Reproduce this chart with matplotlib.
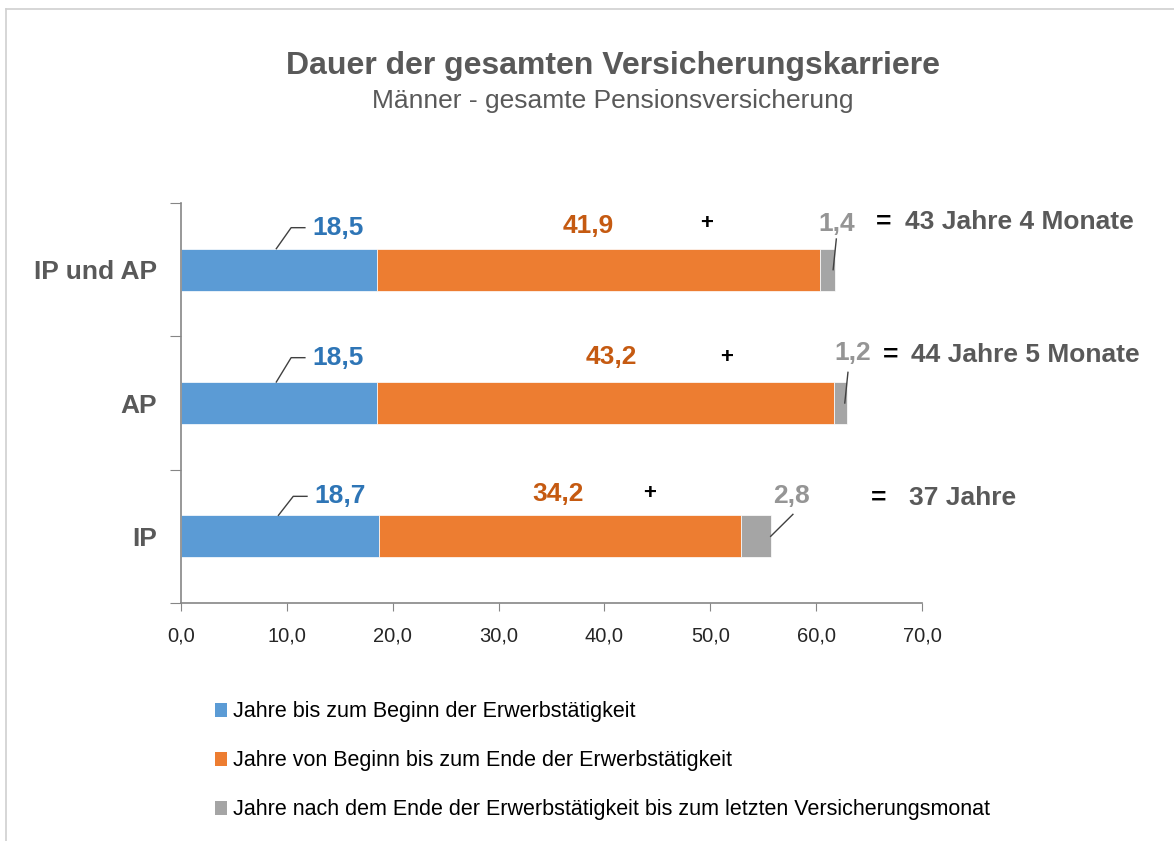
import matplotlib
matplotlib.use("Agg")
from matplotlib import pyplot as plt
from matplotlib.patches import Patch
from matplotlib.lines import Line2D

plt.rcParams['font.family'] = ['Liberation Sans', 'DejaVu Sans']

# Daten (von unten nach oben)
kategorien = ["IP", "AP", "IP und AP"]
vor_erwerb = [18.7, 18.5, 18.5]
erwerb = [34.2, 43.2, 41.9]
nach_erwerb = [2.8, 1.2, 1.4]
legende = ["Jahre bis zum Beginn der Erwerbstätigkeit",
           "Jahre von Beginn bis zum Ende der Erwerbstätigkeit",
           "Jahre nach dem Ende der Erwerbstätigkeit bis zum letzten Versicherungsmonat"]
x_ticks = [0, 10, 20, 30, 40, 50, 60, 70]

c_blau, c_orange, c_grau = "#5B9BD5", "#ED7D31", "#A5A5A5"

# Beschriftungs-Layout (Versatz je Zeile, gleiche Reihenfolge)
blau_dy = [0.30, 0.34, 0.315]
orange_dx = [-0.2, 0.5, -0.95]
orange_dy = [0.315, 0.345, 0.33]
plus_dx = [-8.6, -10.2, -10.8]
plus_dy = [0.32, 0.345, 0.345]
grau_dx = [2.0, 0.5, 0.1]
grau_dy = [0.30, 0.375, 0.345]
gleich_x = [65.9, 67.0, 66.4]
summe_x = [68.75, 69.0, 68.4]
summe_dy = [0.29, 0.36, 0.36]


def fmt(v):
    return f"{v:.1f}".replace('.', ',')


fig = plt.figure(figsize=(11.74, 8.41), dpi=100)
ax = fig.add_axes([0.1542, 0.2830, 0.6312, 0.4756])

y = list(range(len(kategorien)))
h = 0.315
ax.barh(y, vor_erwerb, height=h, color=c_blau, edgecolor="white", linewidth=0.5)
links2 = vor_erwerb
ax.barh(y, erwerb, left=links2, height=h, color=c_orange, edgecolor="white", linewidth=0.5)
links3 = [a + b for a, b in zip(vor_erwerb, erwerb)]
ax.barh(y, nach_erwerb, left=links3, height=h, color=c_grau, edgecolor="white", linewidth=0.5)

ax.set_xlim(0, 70)
ax.set_ylim(-0.5, 2.5)
ax.set_xticks(x_ticks)
ax.set_xticklabels([fmt(t) for t in x_ticks], fontsize=14.5, color="#262626")
ax.set_yticks([-0.5, 0.5, 1.5, 2.5])
ax.set_yticklabels([])
ax.set_yticks(y, minor=True)
ax.set_yticklabels(kategorien, minor=True, fontsize=19, fontweight="bold", color="#595959")
ax.tick_params(axis='y', which='minor', length=0, pad=17)
ax.tick_params(axis='y', which='major', length=8, color="#868686", direction='out')
ax.tick_params(axis='x', length=6, color="#868686", direction='out', pad=11)
for s in ["top", "right"]:
    ax.spines[s].set_visible(False)
for s in ["left", "bottom"]:
    ax.spines[s].set_color("#868686")
    ax.spines[s].set_linewidth(1.2)

for i, yy in enumerate(y):
    b, o, g = vor_erwerb[i], erwerb[i], nach_erwerb[i]
    ende = b + o + g
    # blaue Werte mit Führungslinie
    ly = yy + blau_dy[i]
    ax.plot([b - 9.5, b - 8.1, b - 6.8], [yy + h / 2, ly, ly], color="#404040", lw=1)
    ax.text(b - 6.1, ly, fmt(b), ha='left', va='center', fontsize=19,
            fontweight='bold', color="#2E75B6")
    # orange Werte
    ax.text(b + o / 2 + orange_dx[i], yy + orange_dy[i], fmt(o), ha='center', va='center',
            fontsize=19, fontweight='bold', color="#C55A11")
    ax.text(b + o + plus_dx[i], yy + plus_dy[i], "+", ha='center', va='center',
            fontsize=16, fontweight='bold', color="black")
    # graue Werte
    gx = ende + grau_dx[i]
    gy = yy + grau_dy[i]
    ax.text(gx, gy, fmt(g), ha='center', va='center', fontsize=19,
            fontweight='bold', color="#959595", clip_on=False)
    if i == 0:
        ax.plot([ende, ende + 2.1], [yy, yy + 0.165], color="#404040", lw=1)
    else:
        ax.plot([ende - 0.2, ende + 0.1], [yy, yy + 0.23], color="#404040", lw=1)
    # Summe
    monate = round((o + g) * 12)
    jahre, rest = divmod(monate, 12)
    txt = f"{jahre} Jahre" + (f" {rest} Monate" if rest else "")
    sy = yy + summe_dy[i]
    ax.text(gleich_x[i], sy, "=", ha='center', va='center', fontsize=19,
            fontweight='bold', color="black", clip_on=False)
    ax.text(summe_x[i], sy, txt, ha='left', va='center', fontsize=19,
            fontweight='bold', color="#595959", clip_on=False)

fig.text(0.522, 0.921, "Dauer der gesamten Versicherungskarriere", ha='center', va='center',
         fontsize=23, fontweight='bold', color="#595959")
fig.text(0.522, 0.880, "Männer - gesamte Pensionsversicherung", ha='center', va='center',
         fontsize=19, color="#595959")

handles = [Patch(facecolor=c, edgecolor='none') for c in (c_blau, c_orange, c_grau)]
fig.legend(handles, legende, loc='upper left', bbox_to_anchor=(0.1835, 0.166),
           frameon=False, fontsize=15.5, labelspacing=1.3, handlelength=0.55,
           handleheight=0.6, handletextpad=0.25, borderaxespad=0, borderpad=0)

fig.add_artist(Line2D([6 / 1174, 6 / 1174], [0, 1 - 9 / 841], color="#d0d0d0", lw=1.2))
fig.add_artist(Line2D([6 / 1174, 1], [1 - 9 / 841, 1 - 9 / 841], color="#d0d0d0", lw=1.2))

fig.savefig("out.png", dpi=100)
